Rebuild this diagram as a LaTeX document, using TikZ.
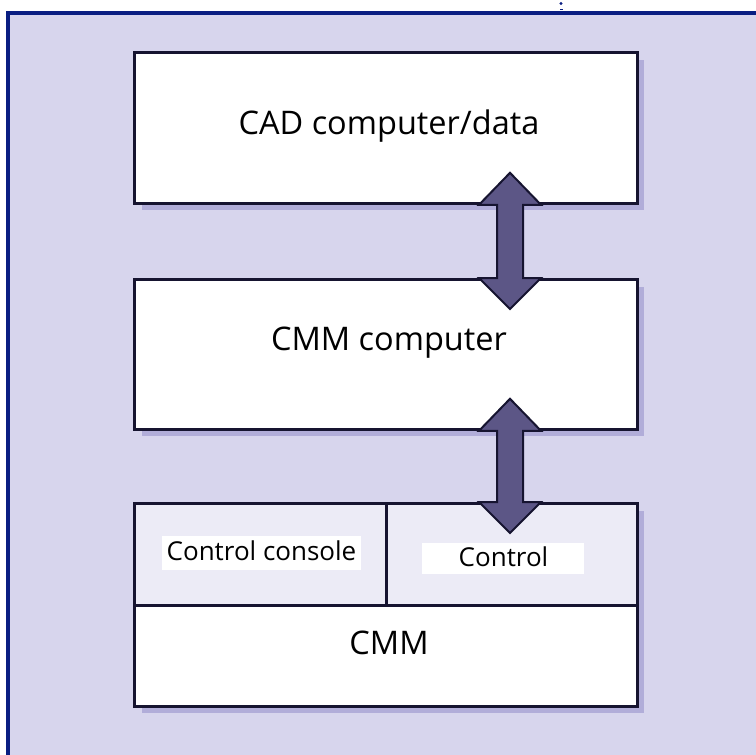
\documentclass[tikz,border=0pt]{standalone}
\usepackage{fontspec}
\setmainfont{Open Sans}
\usetikzlibrary{calc}

\definecolor{pagebg}{RGB}{215,213,237}
\definecolor{framec}{RGB}{10,30,130}
\definecolor{boxline}{RGB}{22,20,48}
\definecolor{shadowc}{RGB}{168,163,212}
\definecolor{cellfill}{RGB}{236,235,246}
\definecolor{arrowfill}{RGB}{92,86,134}

\tikzset{
  box/.style={draw=boxline, line width=2.8pt, fill=white, inner sep=0pt, anchor=north west},
  cell/.style={draw=boxline, line width=2.6pt, fill=cellfill, inner sep=0pt, anchor=north west},
  boxshadow/.style={fill=shadowc, opacity=0.8},
  bigtext/.style={font=\fontsize{32.5}{38}\selectfont, text=black, inner sep=0pt},
  tag/.style={fill=white, inner sep=0pt, anchor=north west},
  smalltext/.style={font=\fontsize{26}{30}\selectfont, text=black, inner sep=0pt},
  dblarrow/.style={fill=arrowfill, draw=boxline, line width=2pt, line join=miter},
}

\begin{document}
\begin{tikzpicture}[x=1pt, y=-1pt]
\useasboundingbox (0,0) rectangle (756,755);
\fill[white] (0,0) rectangle (756,755);
\fill[pagebg] (8,13) rectangle (756,755);
% frame edges
\draw[framec, line width=4pt] (8,760) -- (8,13) -- (760,13);
% stray marks above the frame
\fill[framec] (561,3.5) circle (1.6);
\draw[framec, line width=1.3pt] (560,9.5) -- (562.5,9.5);

% shadows
\fill[boxshadow] (142,60) rectangle (644,210);
\fill[boxshadow] (142,287) rectangle (644,436);
\fill[boxshadow] (142,511) rectangle (644,713);

% boxes
\node[box, minimum width=503pt, minimum height=151pt] (cad) at (133,51) {};
\node[bigtext] (cadlabel) at (389,126) {CAD computer/data};

\node[box, minimum width=503pt, minimum height=150pt] (cmmpc) at (133,278) {};
\node[bigtext] (cmmpclabel) at (389,343) {CMM computer};

\node[cell, minimum width=252pt, minimum height=102pt] (console) at (133,502) {};
\node[cell, minimum width=251pt, minimum height=102pt] (control) at (385,502) {};
\node[box, minimum width=503pt, minimum height=101pt] (cmm) at (133,604) {};
\node[bigtext] (cmmlabel) at (389,643) {CMM};

\node[tag, minimum width=199pt, minimum height=34pt] (consoletag) at (162,536) {};
\node[smalltext] (consoletext) at (261.5,551) {Control console};
\node[tag, minimum width=162pt, minimum height=31pt] (controltag) at (422,543) {};
\node[smalltext] (controltext) at (503.5,557) {Control};

% double arrows between the boxes
\coordinate (a1s) at (510,0 |- cad.south);
\coordinate (a1e) at (510,0 |- cmmpc.north);
\coordinate (a2s) at (510,0 |- cmmpc.south);
\coordinate (a2e) at (510,0 |- control.north);

\foreach \s/\e in {a1s/a1e, a2s/a2e}{
  \draw[dblarrow]
    ($(\s)+(0,-32)$) -- ($(\s)+(31,0)$) -- ($(\s)+(13,0)$) --
    ($(\e)+(13,0)$) -- ($(\e)+(31,0)$) -- ($(\e)+(0,31)$) --
    ($(\e)+(-31,0)$) -- ($(\e)+(-13,0)$) -- ($(\s)+(-13,0)$) --
    ($(\s)+(-31,0)$) -- cycle;
}
\end{tikzpicture}
\end{document}
